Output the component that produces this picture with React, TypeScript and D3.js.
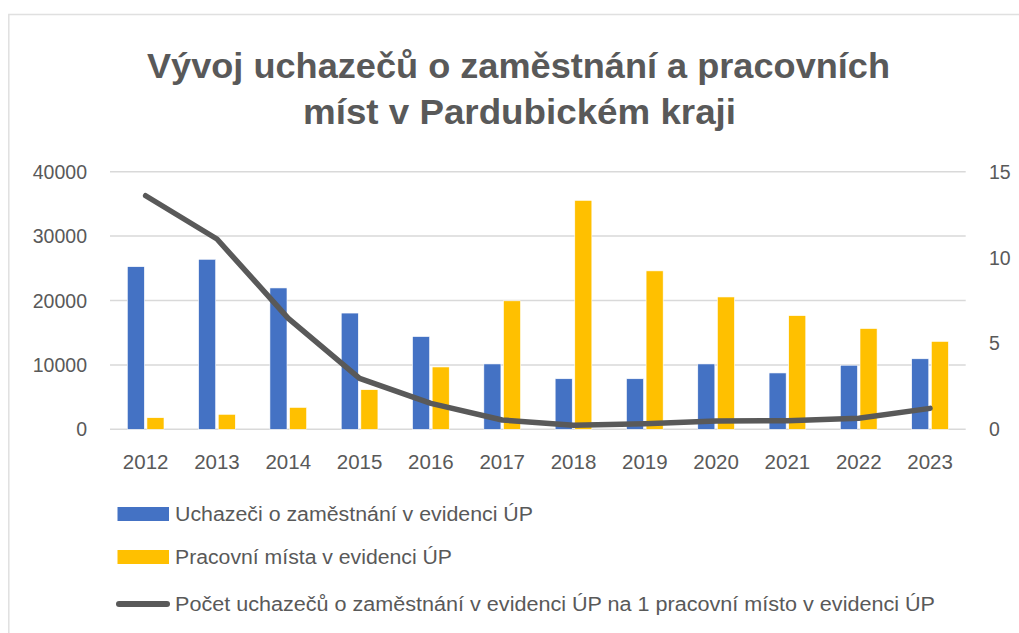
import React from 'react';
import * as d3 from 'd3';

const years = ['2012', '2013', '2014', '2015', '2016', '2017', '2018', '2019', '2020', '2021', '2022', '2023'];
const uchazeci = [25250, 26400, 21950, 18050, 14400, 10150, 7850, 7850, 10150, 8750, 9950, 10950];
const mista = [1800, 2330, 3400, 6150, 9680, 19950, 35550, 24600, 20550, 17650, 15650, 13650];
const pomer = [13.6, 11.08, 6.46, 2.97, 1.51, 0.54, 0.23, 0.32, 0.49, 0.5, 0.64, 1.22];
const leftTicks = [0, 10000, 20000, 30000, 40000];
const rightTicks = [0, 5, 10, 15];
const seriesNames = [
  'Uchazeči o zaměstnání v evidenci ÚP',
  'Pracovní místa v evidenci ÚP',
  'Počet uchazečů o zaměstnání v evidenci ÚP na 1 pracovní místo v evidenci ÚP',
];
const titleLines = ['Vývoj uchazečů o zaměstnání a pracovních', 'míst v Pardubickém kraji'];

const BLUE = '#4472C4';
const YELLOW = '#FFC000';
const GREY = '#595959';
const FONT = "'Liberation Sans', Arial, sans-serif";

const App = () => {
  const width = 1019;
  const height = 633;

  const x = d3.scaleBand<string>().domain(years).range([110, 965.7]);
  const inner = d3.scaleBand<string>().domain(['u', 'p']).range([17.3, 54]).paddingInner(0.13);
  const yL = d3.scaleLinear().domain([0, 40000]).range([429.3, 171.7]);
  const yR = d3.scaleLinear().domain([0, 15]).range([429.3, 171.7]);

  const line = d3
    .line<number>()
    .x((_, i) => (x(years[i]) as number) + x.bandwidth() / 2)
    .y(d => yR(d));

  // legend rows: vertical centre, text width
  const legendRows = [
    { y: 514, len: 358, kind: 'u' },
    { y: 557, len: 277, kind: 'p' },
    { y: 604, len: 760, kind: 'l' },
  ];

  return (
    <div style={{ position: 'absolute', left: 0, top: 0 }}>
      <svg width={width} height={height} style={{ display: 'block', background: '#fff' }}>
        {/* chart frame */}
        <path d={`M8.8,${height} V14.5 H${width}`} fill="none" stroke="#e0e0e0" strokeWidth={1.5} />

        {titleLines.map((t, i) => (
          <text
            key={t}
            x={i === 0 ? 147 : 303}
            y={i === 0 ? 77.5 : 124}
            textLength={i === 0 ? 743 : 433}
            lengthAdjust="spacingAndGlyphs"
            fontFamily={FONT}
            fontWeight="bold"
            fontSize={34.5}
            fill={GREY}
          >
            {t}
          </text>
        ))}

        {leftTicks.map(t => (
          <line key={t} x1={110} x2={965.7} y1={yL(t)} y2={yL(t)} stroke="#d9d9d9" strokeWidth={1.5} />
        ))}
        {leftTicks.map(t => (
          <text key={t} x={87} y={yL(t) + 7} textAnchor="end" fontFamily={FONT} fontSize={19.5} fill={GREY}>
            {t}
          </text>
        ))}
        {rightTicks.map(t => (
          <text key={t} x={989} y={yR(t) + 7} textAnchor="start" fontFamily={FONT} fontSize={19.5} fill={GREY}>
            {t}
          </text>
        ))}

        {years.map((yr, i) => {
          const x0 = x(yr) as number;
          return (
            <g key={yr}>
              <rect
                x={x0 + (inner('u') as number)}
                y={yL(uchazeci[i])}
                width={inner.bandwidth()}
                height={yL(0) - yL(uchazeci[i])}
                fill={BLUE}
                stroke="#ffffff"
                strokeWidth={0.6}
              />
              <rect
                x={x0 + (inner('p') as number)}
                y={yL(mista[i])}
                width={inner.bandwidth()}
                height={yL(0) - yL(mista[i])}
                fill={YELLOW}
                stroke="#ffffff"
                strokeWidth={0.6}
              />
              <text
                x={x0 + x.bandwidth() / 2}
                y={468.5}
                textAnchor="middle"
                fontFamily={FONT}
                fontSize={20.5}
                fill={GREY}
              >
                {yr}
              </text>
            </g>
          );
        })}

        <path
          d={line(pomer) as string}
          fill="none"
          stroke={GREY}
          strokeWidth={5.5}
          strokeLinejoin="round"
          strokeLinecap="round"
        />

        {legendRows.map((r, i) => (
          <g key={r.kind}>
            {r.kind === 'l' ? (
              <line x1={119} x2={167} y1={r.y} y2={r.y} stroke={GREY} strokeWidth={6} strokeLinecap="round" />
            ) : (
              <rect x={117.5} y={r.y - 7} width={51.5} height={14} fill={r.kind === 'u' ? BLUE : YELLOW} />
            )}
            <text
              x={175}
              y={r.y + 7}
              textLength={r.len}
              lengthAdjust="spacingAndGlyphs"
              fontFamily={FONT}
              fontSize={20}
              fill={GREY}
            >
              {seriesNames[i]}
            </text>
          </g>
        ))}
      </svg>
    </div>
  );
};

export default App;
